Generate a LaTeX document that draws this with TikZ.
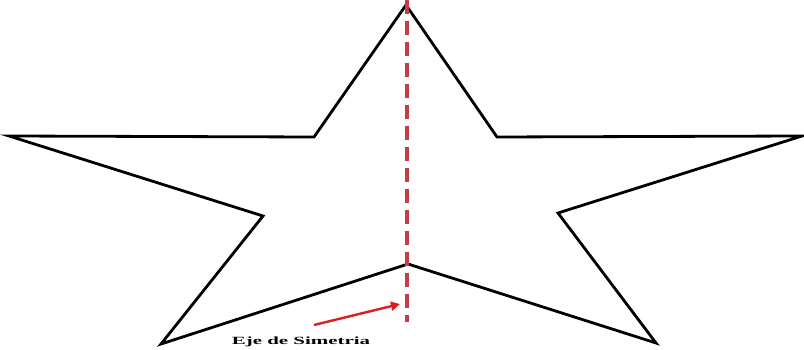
\documentclass[tikz,border=0pt]{standalone}
\usepackage{fontspec}
\setmainfont{Liberation Serif}
\usetikzlibrary{arrows.meta}
\definecolor{axisred}{RGB}{196,62,72}
\definecolor{arrowred}{RGB}{220,30,30}
\tikzset{
  starline/.style={line width=2.8pt, line join=miter, black},
  axisline/.style={line width=4pt, axisred, dash pattern=on 14pt off 7pt},
  pointer/.style={line width=2.4pt, arrowred, -{Triangle[length=9pt,width=9pt]}},
  caption/.style={font=\bfseries\fontsize{11}{12}\selectfont, inner sep=0pt}
}
\begin{document}
\begin{tikzpicture}[x=1pt,y=-1pt]
\useasboundingbox (0,0) rectangle (804,350);
\coordinate (T) at (406,5);
\coordinate (UL) at (314,137);
\coordinate (L) at (9,136);
\coordinate (LL) at (263,216);
\coordinate (BL) at (161,344);
\coordinate (B) at (408,264);
\coordinate (BR) at (656,343);
\coordinate (RR) at (558,213);
\coordinate (R) at (802,136);
\coordinate (UR) at (497,137);
\draw[starline] (T) -- (UL) -- (L) -- (LL) -- (BL) -- (B) -- (BR) -- (RR) -- (R) -- (UR) -- cycle;
\coordinate (A1) at (407,0);
\coordinate (A2) at (407,322);
\draw[axisline] (A1) -- (A2);
\coordinate (P1) at (314,325);
\coordinate (P2) at (400,304);
\draw[pointer] (P1) -- (P2);
\node[caption] (cap) at (301,342) {\scalebox{1.9}[1]{Eje de Simetria}};
\end{tikzpicture}
\end{document}
